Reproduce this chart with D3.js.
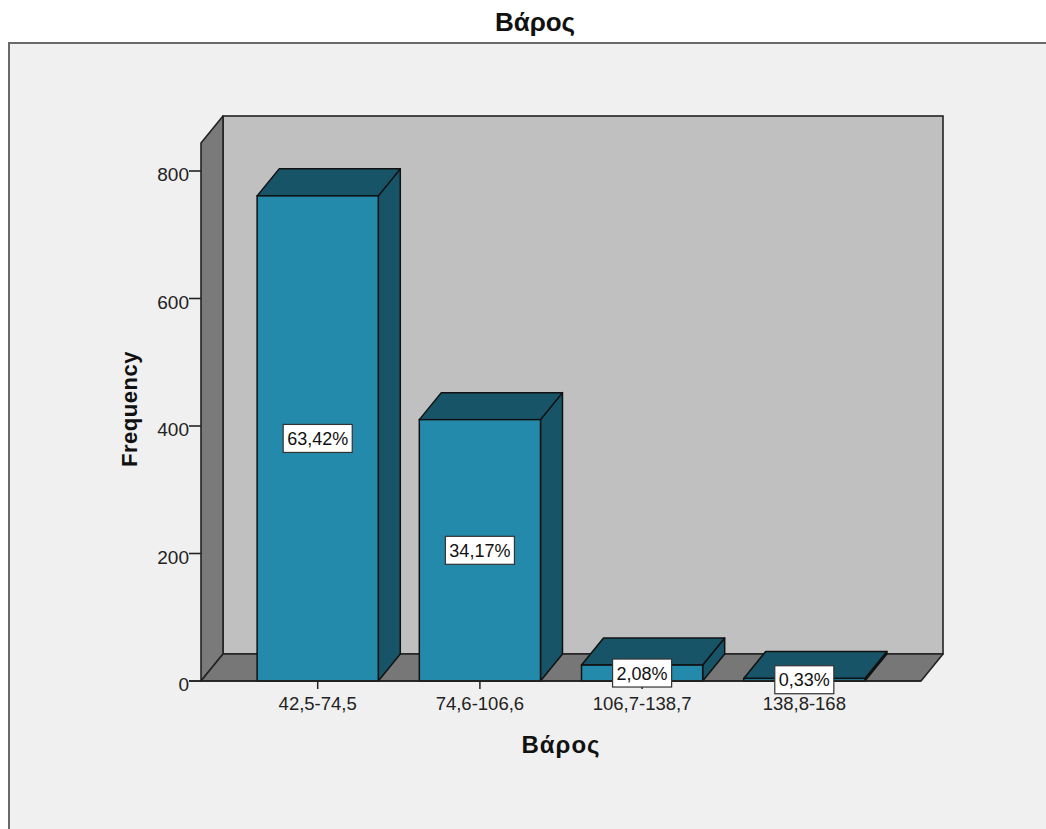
<!DOCTYPE html>
<html>
<head>
<meta charset="utf-8">
<script src="https://cdn.jsdelivr.net/npm/d3@7"></script>
<style>
  html, body { margin: 0; padding: 0; background: #ffffff; }
  svg { display: block; font-family: "Liberation Sans", Arial, sans-serif; }
</style>
</head>
<body>
<svg id="chart" width="1046" height="829"></svg>
<script>
// Weight classes and their frequencies (N = 1200)
const categories = ["42,5-74,5", "74,6-106,6", "106,7-138,7", "138,8-168"];
const frequencies = [761, 410, 25, 4];
const percentLabels = ["63,42%", "34,17%", "2,08%", "0,33%"];
const yTicks = [0, 200, 400, 600, 800];

const svg = d3.select("#chart");

// Outer chart frame
svg.append("rect")
  .attr("x", 9).attr("y", 43).attr("width", 1100).attr("height", 900)
  .attr("fill", "#f0f0f0").attr("stroke", "#6a6a6a").attr("stroke-width", 2);

// Title
svg.append("text")
  .attr("x", 535).attr("y", 31).attr("text-anchor", "middle")
  .attr("font-size", 26).attr("font-weight", "bold").attr("fill", "#111")
  .text("Βάρος");

// 3D depth offset
const DX = 22, DY = 27;

// Scales (front plane)
const y = d3.scaleLinear().domain([0, 800]).range([681, 171]);
const x = d3.scaleBand().domain(categories).range([201, 921])
  .paddingInner(0.253).paddingOuter(0.346);

const x0 = 201, x1 = 921, yBase = y(0), yTop = 143;

// Back wall
svg.append("rect")
  .attr("x", x0 + DX).attr("y", yTop - DY)
  .attr("width", x1 - x0).attr("height", yBase - yTop)
  .attr("fill", "#c0c0c0").attr("stroke", "#222").attr("stroke-width", 1.6);

// Left wall
svg.append("polygon")
  .attr("points", [[x0, yBase], [x0, yTop], [x0 + DX, yTop - DY], [x0 + DX, yBase - DY]].join(" "))
  .attr("fill", "#7a7a7a").attr("stroke", "#222").attr("stroke-width", 1.6).attr("stroke-linejoin", "round");

// Floor
svg.append("polygon")
  .attr("points", [[x0, yBase], [x0 + DX, yBase - DY], [x1 + DX, yBase - DY], [x1, yBase]].join(" "))
  .attr("fill", "#777777").attr("stroke", "#222").attr("stroke-width", 1.6).attr("stroke-linejoin", "round");

// Y axis ticks and labels
const yAxisG = svg.append("g");
yTicks.forEach(t => {
  yAxisG.append("line")
    .attr("x1", x0 - 12).attr("x2", x0).attr("y1", y(t)).attr("y2", y(t))
    .attr("stroke", "#222").attr("stroke-width", 1.6);
  yAxisG.append("text")
    .attr("x", x0 - 12).attr("y", y(t) + 10)
    .attr("text-anchor", "end").attr("font-size", 19).attr("fill", "#222")
    .text(t);
});

// Bars as 3D boxes
const frontColor = "#238aab", darkColor = "#175467";
const barsG = svg.append("g");
categories.forEach((c, i) => {
  const bx = x(c), bw = x.bandwidth(), by = y(frequencies[i]);
  const g = barsG.append("g");
  // side face
  g.append("polygon")
    .attr("points", [[bx + bw, yBase], [bx + bw, by], [bx + bw + DX, by - DY], [bx + bw + DX, yBase - DY]].join(" "))
    .attr("fill", darkColor).attr("stroke", "#111").attr("stroke-width", 1.5).attr("stroke-linejoin", "round");
  // top face
  g.append("polygon")
    .attr("points", [[bx, by], [bx + DX, by - DY], [bx + bw + DX, by - DY], [bx + bw, by]].join(" "))
    .attr("fill", darkColor).attr("stroke", "#111").attr("stroke-width", 1.5).attr("stroke-linejoin", "round");
  // front face
  g.append("rect")
    .attr("x", bx).attr("y", by).attr("width", bw).attr("height", yBase - by)
    .attr("fill", frontColor).attr("stroke", "#111").attr("stroke-width", 1.5);
});

// Base line of the front plane
svg.append("line")
  .attr("x1", x0 - 12).attr("x2", x1).attr("y1", yBase).attr("y2", yBase)
  .attr("stroke", "#222").attr("stroke-width", 1.6);

// X axis ticks and labels
categories.forEach(c => {
  const cx = x(c) + x.bandwidth() / 2;
  svg.append("line")
    .attr("x1", cx).attr("x2", cx).attr("y1", yBase).attr("y2", yBase + 8)
    .attr("stroke", "#222").attr("stroke-width", 1.5);
  svg.append("text")
    .attr("x", cx).attr("y", 710).attr("text-anchor", "middle")
    .attr("font-size", 18.5).attr("fill", "#222")
    .text(c);
});

// Percentage labels in white boxes at the middle of each bar
const labG = svg.append("g");
categories.forEach((c, i) => {
  const cx = x(c) + x.bandwidth() / 2;
  const cy = (y(frequencies[i]) + yBase) / 2;
  const t = labG.append("text")
    .attr("x", cx).attr("y", cy + 6.5)
    .attr("text-anchor", "middle").attr("font-size", 18).attr("fill", "#111")
    .text(percentLabels[i]);
  const bb = t.node().getBBox();
  labG.insert("rect", "text")
    .attr("x", bb.x - 4).attr("y", cy - 14).attr("width", bb.width + 8).attr("height", 28)
    .attr("fill", "#ffffff").attr("stroke", "#333").attr("stroke-width", 1.2);
});

// Axis titles
svg.append("text")
  .attr("x", 561).attr("y", 753).attr("text-anchor", "middle")
  .attr("font-size", 24).attr("font-weight", "bold").attr("fill", "#111")
  .attr("letter-spacing", 1)
  .text("Βάρος");

svg.append("text")
  .attr("transform", "translate(137,409) rotate(-90)")
  .attr("text-anchor", "middle")
  .attr("font-size", 22).attr("font-weight", "bold").attr("fill", "#111")
  .attr("letter-spacing", 0.5)
  .text("Frequency");
</script>
</body>
</html>
